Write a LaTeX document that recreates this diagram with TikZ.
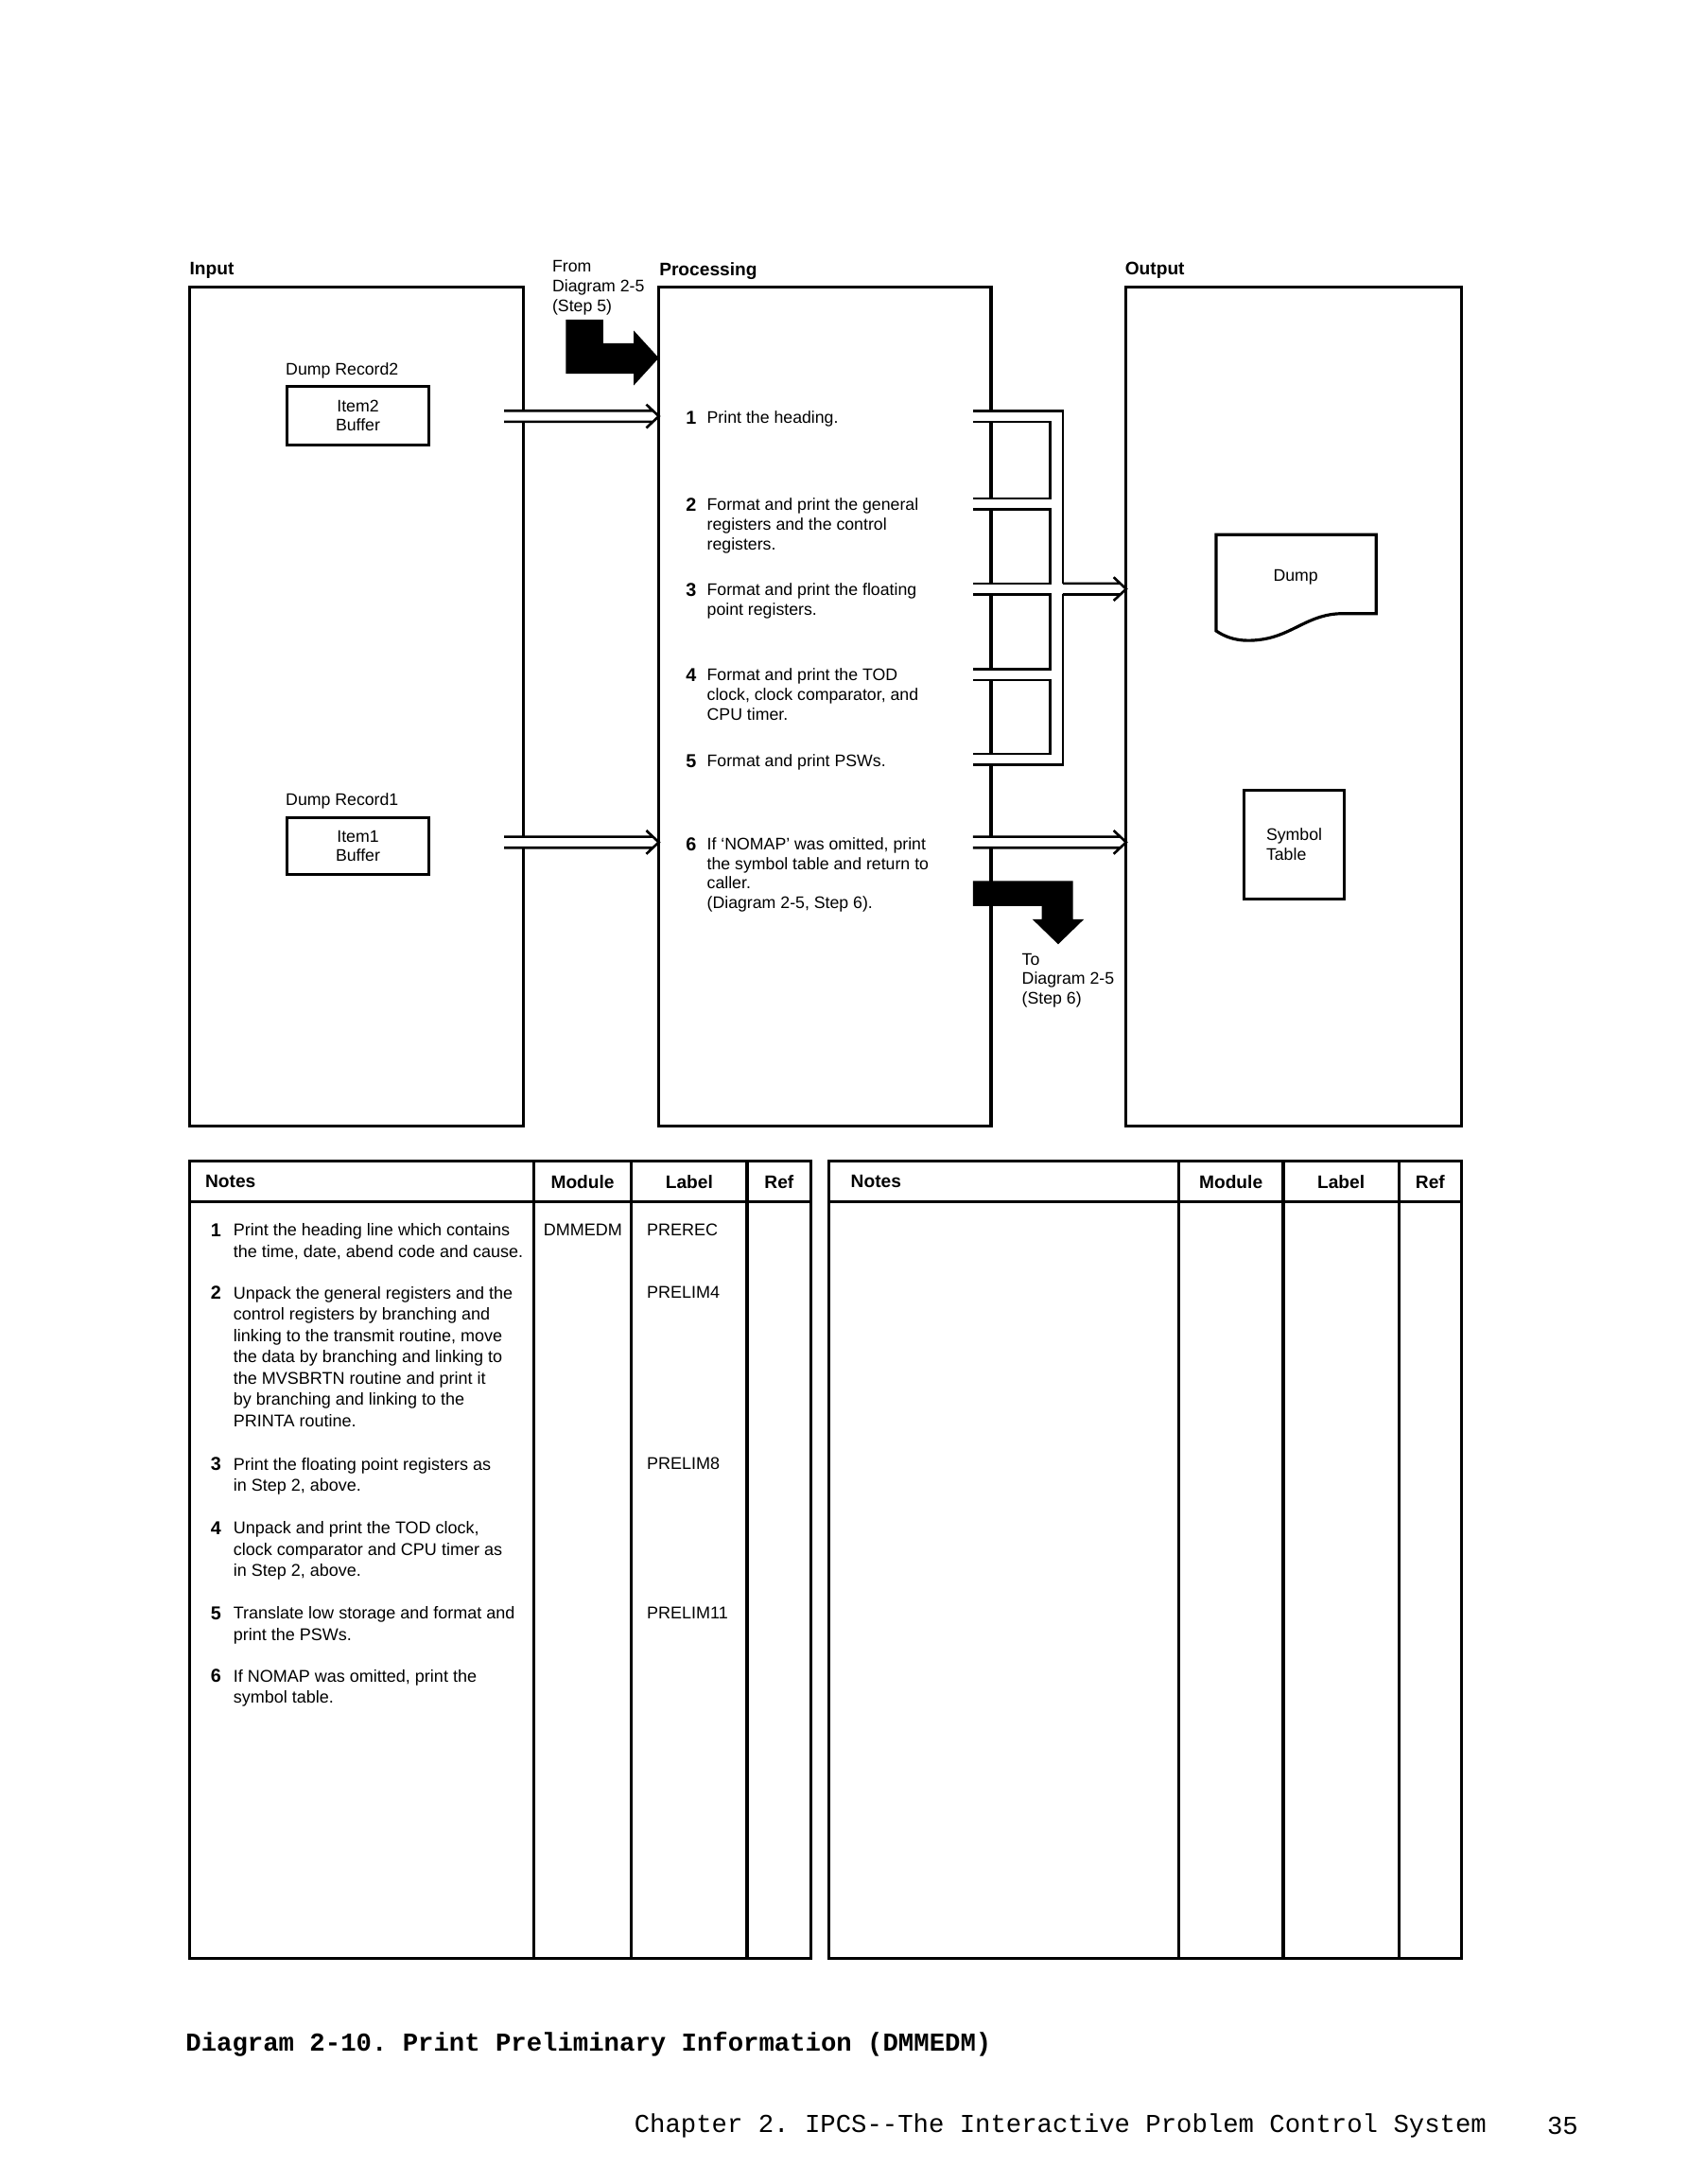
\documentclass[tikz,border=0pt]{standalone}
\usepackage{fontspec}
\setmainfont{Liberation Sans}
\setmonofont{Liberation Mono}
\usepackage{tikz}
\usetikzlibrary{positioning, calc}

% hollow (double line) arrow between two named points at the same height
\newcommand{\pipearrow}[2]{%
  \draw[pipe] ($(#1)+(0,0.07)$) -- ($(#2)+(-0.075,0.07)$)
              ($(#1)+(0,-0.07)$) -- ($(#2)+(-0.075,-0.07)$)
              ($(#2)+(-0.16,0.15)$) -- (#2) -- ($(#2)+(-0.16,-0.15)$);}

\begin{document}
\begin{tikzpicture}[
        every node/.style={inner sep=0pt},
        frame/.style={line width=1.1pt},
        pipe/.style={line width=0.9pt},
        txt/.style={anchor=north west, align=left, font=\fontsize{6.1}{7.1}\selectfont},
        note/.style={anchor=north west, align=left, font=\fontsize{6.2}{7.75}\selectfont},
        num/.style={anchor=north west, font=\fontsize{6.8}{7}\selectfont\bfseries},
        colhead/.style={font=\fontsize{6.6}{7}\selectfont\bfseries},
        databox/.style={rectangle, draw, line width=1.1pt, align=center, font=\fontsize{6.1}{7.1}\selectfont}]

    \useasboundingbox (0,0) rectangle (21.59,27.94);

    % headings
    \node[colhead, anchor=north west] (inhead) at (2.42,24.59) {Input};
    \node[colhead, anchor=north west] (prochead) at (8.43,24.59) {Processing};
    \node[colhead, anchor=north west] (outhead) at (14.39,24.59) {Output};
    \node[txt] (fromtxt) at (7.06,24.61) {From\\Diagram 2-5\\(Step 5)};

    % input box
    \draw[frame] (6.70,22.685) |- (2.43,24.27) |- (6.70,13.53) -- (6.70,17.09);
    \draw[frame] (6.70,22.545) -- (6.70,17.24);
    \node[txt] (rec2) at (3.65,23.31) {Dump Record2};
    \node[databox, minimum width=1.82cm, minimum height=0.75cm] (item2) at (4.58,22.625) {Item2\\Buffer};
    \node[txt] (rec1) at (3.65,17.80) {Dump Record1};
    \node[databox, minimum width=1.82cm, minimum height=0.73cm] (item1) at (4.58,17.115) {Item1\\Buffer};

    % processing box
    \draw[frame] (12.68,22.685) |- (8.43,24.27) |- (12.68,13.53) -- (12.68,17.09);
    \foreach \a/\b in {22.545/21.565, 21.425/20.475, 20.335/19.38, 19.24/18.295, 18.155/17.24}
        \draw[frame] (12.68,\a) -- (12.68,\b);

    \node[num] (n1) at (8.77,22.69) {1};
    \node[txt] (s1) at (9.04,22.69) {Print the heading.};
    \node[num] (n2) at (8.77,21.57) {2};
    \node[txt] (s2) at (9.04,21.57) {Format and print the general\\registers and the control\\registers.};
    \node[num] (n3) at (8.77,20.48) {3};
    \node[txt] (s3) at (9.04,20.48) {Format and print the floating\\point registers.};
    \node[num] (n4) at (8.77,19.39) {4};
    \node[txt] (s4) at (9.04,19.39) {Format and print the TOD\\clock, clock comparator, and\\CPU timer.};
    \node[num] (n5) at (8.77,18.29) {5};
    \node[txt] (s5) at (9.04,18.29) {Format and print PSWs.};
    \node[num] (n6) at (8.77,17.23) {6};
    \node[txt] (s6) at (9.04,17.23) {If `NOMAP' was omitted, print\\the symbol table and return to\\caller.\\(Diagram 2-5, Step 6).};

    % output box
    \draw[frame] (14.41,13.53) rectangle (18.70,24.27);
    \draw[frame] (15.56,21.10) -- (17.61,21.10) -- (17.61,20.09) -- (17.18,20.09)
        .. controls (16.75,20.09) and (16.55,19.82) .. (16.15,19.76)
        .. controls (15.95,19.73) and (15.75,19.74) .. (15.56,19.87) -- cycle;
    \node[font=\fontsize{6.1}{7.1}\selectfont] (dump) at (16.58,20.56) {Dump};
    \node[databox, align=left, minimum width=1.28cm, minimum height=1.39cm] (symtab) at (16.56,17.135) {Symbol\\Table};

    % connectors
    \coordinate (i2out) at (6.45,22.615);
    \coordinate (s1in) at (8.43,22.615);
    \coordinate (i1out) at (6.45,17.165);
    \coordinate (s6in) at (8.43,17.165);
    \coordinate (s6out) at (12.45,17.165);
    \coordinate (symin) at (14.41,17.165);
    \coordinate (mfout) at (13.60,20.405);
    \coordinate (dumpin) at (14.41,20.405);

    \pipearrow{i2out}{s1in}
    \pipearrow{i1out}{s6in}
    \pipearrow{s6out}{symin}
    \pipearrow{mfout}{dumpin}

    % steps 1-5 collected into one output
    \draw[pipe] (12.45,22.685) -| (13.60,20.475);
    \draw[pipe] (12.45,18.155) -| (13.60,20.335);
    \foreach \a/\b in {22.545/21.565, 21.425/20.475, 20.335/19.38, 19.24/18.295}
        \draw[pipe] (12.45,\a) -| (13.44,\b) -- (12.45,\b);

    % entry and exit
    \fill (7.24,23.85) -- (7.72,23.85) -- (7.72,23.55) -- (8.11,23.55) -- (8.11,23.71)
        -- (8.43,23.36) -- (8.11,23.01) -- (8.11,23.16) -- (7.24,23.16) -- cycle;
    \fill (12.45,16.67) -- (13.73,16.67) -- (13.73,16.18) -- (13.87,16.18) -- (13.54,15.86)
        -- (13.21,16.18) -- (13.33,16.18) -- (13.33,16.35) -- (12.45,16.35) -- cycle;
    \node[txt] (totxt) at (13.07,15.75) {To\\Diagram 2-5\\(Step 6)};

    % notes tables
    \draw[frame] (2.43,2.89) rectangle (10.38,13.09);
    \draw[frame] (2.43,12.57) -- (10.38,12.57);
    \foreach \x in {6.83,8.08,9.56}
        \draw[frame] (\x,13.09) -- (\x,2.89);
    \draw[frame] (10.61,2.89) rectangle (18.70,13.09);
    \draw[frame] (10.61,12.57) -- (18.70,12.57);
    \foreach \x in {15.08,16.42,17.90}
        \draw[frame] (\x,13.09) -- (\x,2.89);

    \node[colhead, anchor=north west] (notes1) at (2.62,12.91) {Notes};
    \node[colhead, anchor=north] (mod1) at (7.455,12.91) {Module};
    \node[colhead, anchor=north] (lab1) at (8.82,12.91) {Label};
    \node[colhead, anchor=north] (ref1) at (9.97,12.91) {Ref};
    \node[colhead, anchor=north west] (notes2) at (10.88,12.91) {Notes};
    \node[colhead, anchor=north] (mod2) at (15.75,12.91) {Module};
    \node[colhead, anchor=north] (lab2) at (17.16,12.91) {Label};
    \node[colhead, anchor=north] (ref2) at (18.30,12.91) {Ref};

    \node[num] (nn1) at (2.69,12.29) {1};
    \node[note] (nt1) at (2.98,12.29) {Print the heading line which contains\\the time, date, abend code and cause.};
    \node[num] (nn2) at (2.69,11.49) {2};
    \node[note] (nt2) at (2.98,11.49) {Unpack the general registers and the\\control registers by branching and\\linking to the transmit routine, move\\the data by branching and linking to\\the MVSBRTN routine and print it\\by branching and linking to the\\PRINTA routine.};
    \node[num] (nn3) at (2.69,9.30) {3};
    \node[note] (nt3) at (2.98,9.30) {Print the floating point registers as\\in Step 2, above.};
    \node[num] (nn4) at (2.69,8.48) {4};
    \node[note] (nt4) at (2.98,8.48) {Unpack and print the TOD clock,\\clock comparator and CPU timer as\\in Step 2, above.};
    \node[num] (nn5) at (2.69,7.39) {5};
    \node[note] (nt5) at (2.98,7.39) {Translate low storage and format and\\print the PSWs.};
    \node[num] (nn6) at (2.69,6.59) {6};
    \node[note] (nt6) at (2.98,6.59) {If NOMAP was omitted, print the\\symbol table.};

    \node[note] (modname) at (6.95,12.29) {DMMEDM};
    \node[note] (lbl1) at (8.27,12.29) {PREREC};
    \node[note] (lbl2) at (8.27,11.49) {PRELIM4};
    \node[note] (lbl3) at (8.27,9.30) {PRELIM8};
    \node[note] (lbl5) at (8.27,7.39) {PRELIM11};

    % caption and page foot
    \node[anchor=west, font=\fontsize{9.4}{10}\selectfont\ttfamily\bfseries] (caption) at (2.37,1.79) {Diagram 2-10. Print Preliminary Information (DMMEDM)};
    \node[anchor=west, font=\fontsize{9.4}{10}\selectfont\ttfamily] (footer) at (8.11,0.75) {Chapter 2. IPCS-{}-The Interactive Problem Control System};
    \node[anchor=west, font=\fontsize{9.4}{10}\selectfont\ttfamily] (pageno) at (19.79,0.75) {35};
\end{tikzpicture}
\end{document}
